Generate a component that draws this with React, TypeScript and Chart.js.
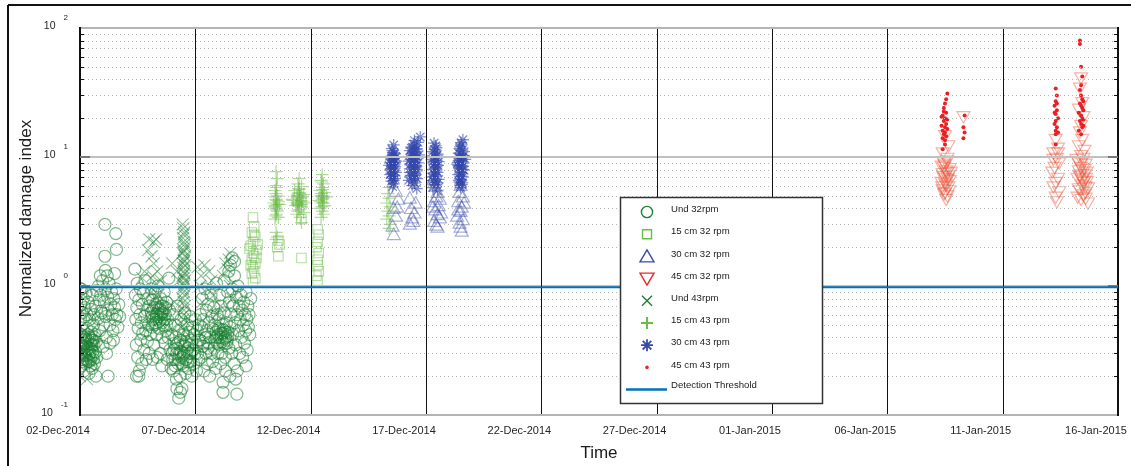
import React, { useEffect, useRef } from 'react';
import { Chart, registerables } from 'chart.js';

Chart.register(...registerables);

// ---------- axis definitions ----------
const xTickDays = [0, 5, 10, 15, 20, 25, 30, 35, 40, 45];
const xTickLabels = [
  '02-Dec-2014', '07-Dec-2014', '12-Dec-2014', '17-Dec-2014', '22-Dec-2014',
  '27-Dec-2014', '01-Jan-2015', '06-Jan-2015', '11-Jan-2015', '16-Jan-2015',
];
const yDecades = [0.1, 1, 10, 100];
const yExponents = ['-1', '0', '1', '2'];
const yMinorMultipliers = [2, 3, 4, 5, 6, 7, 8, 9];
const detectionThreshold = 0.98;

// ---------- data: [days since 02-Dec-2014, normalized damage index] ----------
const und32rpm: [number, number][] = [
  [0.00,0.28],[0.03,0.35],[0.05,0.42],[0.06,0.24],[0.08,0.31],[0.10,0.38],[0.12,0.27],[0.14,0.45],[0.15,0.33],[0.17,0.22],
  [0.19,0.36],[0.21,0.29],[0.23,0.41],[0.25,0.25],[0.27,0.34],[0.29,0.31],[0.31,0.47],[0.33,0.38],[0.35,0.26],[0.37,0.33],
  [0.39,0.21],[0.41,0.4],[0.43,0.3],[0.45,0.36],[0.47,0.27],[0.49,0.44],[0.51,0.32],[0.53,0.23],[0.55,0.38],[0.57,0.29],
  [0.59,0.5],[0.61,0.35],[0.63,0.25],[0.65,0.42],[0.67,0.31],[0.69,0.2],[0.71,0.37],[0.73,0.28],
  [0.04,0.3],[0.09,0.26],[0.11,0.34],[0.16,0.4],[0.2,0.3],[0.24,0.36],[0.28,0.27],[0.32,0.33],[0.34,0.42],[0.38,0.29],
  [0.44,0.33],[0.46,0.24],[0.5,0.38],[0.56,0.31],[0.58,0.27],[0.62,0.4],[0.13,0.29],[0.26,0.39],[0.4,0.26],[0.52,0.35],
  [0.02,0.55],[0.04,0.72],[0.06,0.95],[0.1,0.62],[0.14,0.8],[0.18,0.58],[0.22,0.68],[0.26,0.88],[0.3,0.6],[0.36,0.75],
  [0.42,0.55],[0.48,0.66],[0.54,0.85],[0.6,0.6],[0.66,0.7],[0.72,0.92],[0.78,0.56],[0.84,0.78],[0.9,0.64],
  [0.8,1.0],[0.85,0.45],[0.9,0.85],[0.95,0.62],[0.98,1.1],[1.02,0.5],[1.05,0.75],[1.1,0.95],[1.12,0.58],[1.15,0.4],
  [1.2,0.82],[1.22,0.65],[1.26,1.05],[1.3,0.5],[1.33,0.72],[1.37,0.9],[1.4,0.6],[1.43,0.45],[1.46,0.8],[1.5,0.68],
  [1.53,0.55],[1.57,0.95],[1.6,0.6],[1.64,0.48],[1.68,0.72],[1.72,0.58],[1.3,0.36],[1.45,0.38],[1.0,0.34],[1.18,1.2],[0.88,1.2],
  [1.08,3.0],[1.55,2.55],[1.58,1.92],[1.08,1.7],[1.1,1.32],[1.22,0.2],[1.15,0.3],[0.0,0.95],[1.5,1.25],
  [2.38,1.35],[2.4,0.85],[2.42,0.55],[2.44,0.35],[2.46,0.68],[2.48,1.05],[2.5,0.28],[2.52,0.47],[2.55,0.78],[2.57,0.22],
  [2.6,0.6],[2.62,0.95],[2.64,0.38],[2.66,0.52],[2.68,0.25],[2.7,0.72],[2.72,0.43],[2.75,0.88],[2.77,0.32],[2.8,0.58],
  [2.82,1.1],[2.85,0.45],[2.87,0.27],[2.9,0.65],[2.92,0.37],[2.95,0.8],[2.97,0.5],[3.0,0.3],[3.02,0.7],[3.05,0.42],
  [3.08,0.95],[2.45,0.2],[2.55,0.2],
  [3.1,0.62],[3.12,0.48],[3.15,0.78],[3.18,0.55],[3.2,0.35],[3.22,0.68],[3.25,0.88],[3.28,0.52],[3.3,0.6],[3.32,0.42],
  [3.35,0.74],[3.38,1.0],[3.4,0.58],[3.42,0.47],[3.45,0.66],[3.48,0.3],[3.5,0.8],[3.52,0.55],[3.55,0.62],[3.58,0.4],
  [3.6,0.7],[3.62,0.5],[3.65,0.9],[3.68,0.36],[3.7,0.6],[3.72,0.45],[3.75,0.75],[3.78,0.27],[3.8,0.55],[3.82,0.4],
  [3.85,1.15],[3.88,0.65],[3.9,0.32],[3.92,0.5],[3.95,0.23],[3.35,0.28],[3.55,0.24],[3.15,0.27],
  [3.13,0.58],[3.17,0.65],[3.23,0.5],[3.27,0.72],[3.31,0.55],[3.36,0.62],[3.41,0.68],[3.44,0.53],[3.49,0.6],[3.53,0.7],
  [3.57,0.52],[3.61,0.63],[3.66,0.55],[3.71,0.68],[3.76,0.5],
  [3.98,0.42],[4.0,0.3],[4.03,0.6],[4.05,0.22],[4.08,0.36],[4.1,0.5],[4.12,0.27],[4.15,0.4],[4.18,0.19],[4.2,0.33],
  [4.22,0.7],[4.25,0.25],[4.28,0.45],[4.3,0.3],[4.33,0.2],[4.35,0.38],[4.38,0.55],[4.4,0.28],[4.42,0.16],[4.45,0.35],
  [4.48,0.24],[4.5,0.42],[4.52,0.3],[4.55,0.62],[4.58,0.21],[4.6,0.37],[4.62,0.27],[4.65,0.5],[4.68,0.33],[4.7,0.23],
  [4.72,0.44],[4.75,0.3],[4.78,0.58],[4.8,0.26],[4.83,0.38],[4.85,0.2],[4.88,0.48],[4.9,0.32],[4.93,0.25],[4.95,0.42],
  [4.98,0.3],[5.0,0.55],[5.03,0.35],[5.05,0.22],[5.08,0.45],[5.1,0.3],[5.13,0.38],[5.15,0.27],[5.18,0.5],[4.35,0.15],
  [4.28,0.135],[4.2,0.16],
  [4.02,0.27],[4.07,0.32],[4.13,0.24],[4.19,0.3],[4.24,0.36],[4.29,0.27],[4.36,0.31],[4.41,0.25],[4.47,0.29],[4.53,0.34],
  [4.59,0.27],[4.64,0.31],[4.69,0.26],[4.76,0.35],[4.82,0.3],
  [5.2,0.38],[5.22,0.6],[5.25,0.28],[5.28,0.48],[5.3,0.8],[5.32,0.34],[5.35,0.55],[5.38,0.22],[5.4,0.42],[5.42,0.95],
  [5.45,0.3],[5.48,0.65],[5.5,0.45],[5.52,0.25],[5.55,0.72],[5.58,0.36],[5.6,0.52],[5.62,0.2],[5.65,0.4],[5.68,0.85],
  [5.7,0.3],[5.72,0.58],[5.75,0.26],[5.78,0.46],[5.8,0.68],[5.82,0.33],[5.85,0.5],[5.88,0.23],[5.9,0.4],[5.92,1.05],
  [5.95,0.6],[5.98,0.3],
  [6.0,0.42],[6.02,0.55],[6.05,0.35],[6.08,0.46],[6.1,0.7],[6.12,0.4],[6.15,0.3],[6.18,0.5],[6.2,0.43],[6.22,0.36],
  [6.25,0.62],[6.28,0.45],[6.3,0.28],[6.32,0.4],[6.35,0.52],[6.38,0.38],[6.4,0.9],[6.42,0.44],[6.45,0.33],[6.48,0.75],
  [6.5,0.48],[6.1,0.25],[6.3,0.22],[6.2,0.18],[6.05,0.85],[6.25,1.1],[6.45,1.3],
  [5.85,0.38],[5.9,0.44],[5.96,0.36],[6.01,0.47],[6.06,0.4],[6.11,0.43],[6.16,0.37],[6.21,0.46],[6.26,0.39],[6.31,0.44],
  [6.36,0.36],[6.41,0.41],[5.36,0.36],[5.46,0.4],[5.56,0.33],
  [6.52,1.45],[6.55,0.6],[6.58,0.3],[6.6,0.95],[6.62,0.42],[6.65,0.7],[6.68,0.25],[6.7,1.2],[6.72,0.52],[6.75,0.35],
  [6.78,0.82],[6.8,0.6],[6.82,0.22],[6.85,1.0],[6.88,0.45],[6.9,0.7],[6.92,0.3],[6.95,0.55],[6.98,0.85],[7.0,0.4],
  [7.03,0.65],[7.05,0.28],[7.08,0.5],[7.1,0.75],[7.13,0.36],[7.15,0.6],[7.18,0.45],[7.2,0.9],[7.23,0.55],[7.25,0.32],
  [7.28,0.7],[7.3,0.48],[7.33,0.6],[7.36,0.42],[7.4,0.8],[6.6,1.65],[6.7,1.55],[6.75,0.19],[6.8,0.145],[6.2,0.15],
  [6.5,0.2],[7.2,0.24],
];

const cm15_32rpm: [number, number][] = [
  [7.5,3.4],[7.55,2.9],[7.45,2.6],[7.6,2.4],[7.5,2.2],[7.4,2.05],[7.65,1.9],[7.5,1.8],[7.55,1.7],[7.45,1.6],
  [7.6,1.5],[7.5,1.4],[7.55,1.3],[7.45,1.25],[7.6,1.15],[7.5,1.07],[7.35,1.95],[7.7,2.1],[7.4,1.45],[7.65,1.65],[7.55,2.5],
  [8.6,2.25],[8.65,2.1],[8.6,1.7],[8.55,2.0],
  [9.6,1.65],[9.6,3.3],
  [10.3,2.75],[10.35,2.5],[10.3,2.2],[10.25,2.0],[10.35,1.8],[10.3,1.6],[10.3,1.45],[10.35,1.3],[10.25,1.2],[10.3,1.1],
];

const cm30_32rpm: [number, number][] = [
  [13.6,2.45],[13.55,2.85],[13.7,3.4],[13.75,4.0],[13.8,4.6],[13.7,5.3],[13.6,3.9],
  [14.3,4.7],[14.35,3.9],[14.4,3.3],[14.45,3.1],[14.5,3.6],[14.3,2.95],[14.55,4.3],
  [15.3,6.5],[15.4,5.8],[15.5,5.2],[15.45,4.8],[15.35,4.4],[15.55,4.1],[15.4,3.8],[15.5,3.5],[15.6,3.3],[15.35,3.1],
  [15.45,2.9],[15.5,2.8],[15.65,3.6],[15.3,4.0],[15.6,4.6],
  [16.5,5.9],[16.45,5.2],[16.6,4.8],[16.4,4.4],[16.55,4.0],[16.5,3.7],[16.35,3.4],[16.6,3.2],[16.45,3.0],[16.5,2.8],
  [16.55,2.6],[16.4,3.8],[16.65,4.3],
];

const cm45_32rpm: [number, number][] = [
  [37.5,15],[37.65,12.5],[37.4,11],[37.6,10],[37.45,9.2],[37.35,8.7],[37.7,8.3],[37.55,8.0],[37.4,7.6],[37.65,7.3],
  [37.5,7.0],[37.7,6.7],[37.35,6.5],[37.55,6.2],[37.65,6.0],[37.4,5.7],[37.5,5.4],[37.6,5.1],[37.55,4.8],[37.45,8.5],
  [37.6,9.5],[37.75,7.8],
  [37.48,8.9],[37.58,7.7],[37.42,7.2],[37.62,6.9],[37.5,6.4],[37.38,6.0],[37.68,5.6],[37.46,5.3],
  [38.3,21],
  [42.3,14],[42.4,12],[42.2,11],[42.35,10],[42.45,9.2],[42.25,8.5],[42.15,7.8],[42.4,7.0],[42.3,6.5],[42.2,6.0],
  [42.45,5.5],[42.3,5.0],[42.35,4.6],[42.2,9.8],[42.4,11],
  [43.4,42],[43.35,35],[43.45,27],[43.3,24],[43.5,21],[43.4,18],[43.35,16],[43.45,14],[43.3,12.5],[43.55,11.5],
  [43.4,10.5],[43.2,9.8],[43.6,9.0],[43.4,8.5],[43.3,8.0],[43.55,7.5],[43.25,7.0],[43.65,6.6],[43.45,6.2],[43.3,5.8],
  [43.6,5.4],[43.25,5.0],[43.7,4.5],[43.4,4.8],[43.5,10],[43.65,7.8],[43.45,6.8],[43.7,5.9],[43.3,9.2],
  [43.45,9.4],[43.55,8.2],[43.35,7.2],[43.5,6.5],[43.6,6.0],[43.35,5.6],[43.5,5.2],[43.6,4.9],[43.35,7.4],[43.62,7.0],
];

const und43rpm: [number, number][] = [
  [0.0,0.2],[0.05,0.65],[0.1,0.3],[0.2,0.45],[0.3,0.19],[0.5,0.25],[0.6,0.55],[0.15,0.85],[0.4,0.35],[0.8,0.4],
  [3.0,2.3],[3.2,2.2],[3.3,2.3],[2.95,1.9],[3.1,1.7],[3.2,1.5],[3.35,1.3],[3.15,1.2],[3.3,1.05],[3.5,1.1],
  [3.1,0.9],[3.4,0.85],[3.6,0.7],[3.3,0.6],[3.0,0.5],[3.5,0.55],[2.8,1.3],[2.7,1.15],
  [4.45,3.0],[4.5,2.5],[4.5,2.2],[4.55,2.0],[4.45,1.8],[4.5,1.6],[4.55,1.45],[4.5,1.3],[4.45,1.2],[4.55,1.1],
  [4.5,1.0],[4.5,0.9],[4.45,0.8],[4.55,0.7],[4.5,0.6],[4.5,0.5],[4.55,0.4],[4.45,0.35],[4.0,1.5],[4.2,1.3],
  [4.3,1.1],[4.1,0.75],[4.5,1.9],[4.55,1.7],[4.45,1.5],
  [4.48,2.8],[4.52,2.6],[4.47,2.35],[4.53,2.1],[4.49,1.85],[4.51,1.55],[4.48,1.38],[4.52,1.25],[4.49,1.15],[4.51,1.05],
  [4.47,0.95],[4.53,0.85],[4.49,0.75],[4.51,0.65],[4.48,0.55],[4.52,0.45],
  [5.1,1.4],[5.25,1.2],[5.4,1.45],[5.2,1.0],[5.5,0.95],[5.6,1.3],[5.7,1.1],[5.8,0.85],[6.3,1.5],[6.4,1.35],
  [6.2,1.2],[6.5,1.0],[6.6,0.8],[6.1,0.7],[5.3,0.75],[5.9,0.6],[6.5,1.8],[6.45,1.6],
];

const cm15_43rpm: [number, number][] = [
  [8.5,7.7],[8.55,6.8],[8.5,6.0],[8.45,5.5],[8.55,5.0],[8.5,4.7],[8.6,4.5],[8.45,4.2],[8.5,4.0],[8.55,3.8],
  [8.5,3.6],[8.6,3.4],[8.45,3.3],[8.5,2.6],[8.55,2.4],[8.5,2.3],[8.4,4.4],[8.65,4.3],[8.5,5.2],
  [8.52,5.8],[8.48,4.9],[8.53,4.6],[8.47,4.1],[8.52,3.9],[8.5,3.5],[8.55,4.3],
  [9.5,6.8],[9.45,6.2],[9.6,5.9],[9.3,5.5],[9.5,5.3],[9.7,5.1],[9.4,4.9],[9.55,4.8],[9.25,4.6],[9.65,4.5],
  [9.45,4.4],[9.35,4.2],[9.6,4.1],[9.5,3.9],[9.7,3.7],[9.4,3.6],[9.55,3.4],[9.6,3.1],[9.2,4.7],[9.8,4.4],
  [9.5,5.6],[9.45,4.3],[9.55,5.0],
  [9.48,5.7],[9.52,5.2],[9.42,5.0],[9.58,4.6],[9.5,4.5],[9.4,4.4],[9.6,4.3],[9.5,4.2],[9.45,3.8],[9.62,4.9],
  [10.5,7.3],[10.45,6.6],[10.55,6.2],[10.5,5.8],[10.4,5.5],[10.6,5.3],[10.45,5.0],[10.55,4.8],[10.35,4.6],[10.5,4.4],
  [10.6,4.2],[10.4,4.0],[10.5,3.8],[10.55,3.6],[10.45,3.4],[10.5,4.7],[10.7,4.9],
  [10.48,6.4],[10.52,5.6],[10.46,5.2],[10.54,5.0],[10.5,4.9],[10.42,4.5],[10.56,4.4],[10.5,4.1],
  [13.4,5.8],[13.35,5.2],[13.4,4.8],[13.3,4.4],[13.45,4.1],[13.35,3.8],[13.4,3.5],[13.3,3.3],[13.45,3.0],[13.4,2.8],
];

const cm30_43rpm: [number, number][] = [
  [13.6,12.4],[13.55,11.2],[13.65,10.6],[13.5,10.1],[13.6,9.7],[13.7,9.3],[13.45,9.0],[13.55,8.7],[13.65,8.4],[13.5,8.1],
  [13.6,7.8],[13.7,7.6],[13.45,7.3],[13.55,7.0],[13.65,6.8],[13.5,6.5],[13.6,6.2],[13.55,5.9],[13.7,10.0],[13.4,8.6],
  [13.6,9.0],[13.5,7.5],
  [13.52,11.6],[13.62,10.8],[13.48,9.5],[13.66,9.1],[13.53,8.9],[13.58,8.2],[13.47,7.9],[13.63,7.2],[13.52,6.9],[13.6,6.6],
  [13.57,10.3],[13.5,9.8],
  [14.75,14.3],[14.65,13.0],[14.5,12.2],[14.6,11.6],[14.3,11.2],[14.45,10.8],[14.7,10.4],[14.35,10.0],[14.55,9.6],[14.25,9.3],
  [14.65,9.0],[14.4,8.7],[14.5,8.4],[14.3,8.1],[14.6,7.8],[14.45,7.5],[14.35,7.2],[14.55,6.9],[14.25,6.6],[14.5,6.3],
  [14.4,6.0],[14.6,5.7],[14.45,10.2],[14.55,11.0],[14.35,8.9],[14.6,8.0],[14.4,7.0],
  [14.5,13.4],[14.42,11.9],[14.58,11.4],[14.38,10.6],[14.62,10.0],[14.48,9.8],[14.33,9.6],[14.53,9.0],[14.42,8.3],[14.57,8.6],
  [14.3,7.6],[14.5,7.2],[14.62,6.8],[14.4,6.5],[14.48,12.6],[14.36,11.7],
  [15.35,12.8],[15.45,11.8],[15.3,11.0],[15.5,10.5],[15.4,10.0],[15.25,9.6],[15.55,9.2],[15.35,8.8],[15.45,8.4],[15.3,8.0],
  [15.5,7.6],[15.4,7.3],[15.25,7.0],[15.55,6.7],[15.35,6.4],[15.45,6.1],[15.3,5.8],[15.5,5.5],[15.4,9.0],[15.45,7.8],
  [15.42,12.2],[15.38,11.4],[15.48,10.2],[15.32,9.3],[15.52,8.6],[15.38,8.2],[15.44,7.1],[15.3,6.6],[15.5,6.3],[15.36,10.7],
  [15.46,9.4],[15.34,7.5],
  [16.6,13.6],[16.55,12.4],[16.45,11.6],[16.65,11.0],[16.5,10.5],[16.4,10.0],[16.7,9.6],[16.55,9.2],[16.35,8.8],[16.6,8.5],
  [16.45,8.2],[16.65,7.9],[16.5,7.6],[16.4,7.3],[16.6,7.0],[16.5,6.7],[16.45,6.4],[16.55,6.1],[16.5,5.8],[16.6,9.9],
  [16.4,8.6],[16.5,9.4],
  [16.52,12.9],[16.47,12.0],[16.58,11.3],[16.42,10.7],[16.62,10.2],[16.48,9.7],[16.56,8.9],[16.44,8.4],[16.6,8.0],[16.46,7.4],
  [16.54,7.1],[16.42,6.6],[16.58,6.3],[16.48,6.0],[16.38,9.1],
];

const cm45_43rpm: [number, number][] = [
  [37.6,31],[37.55,28],[37.5,26],[37.45,24],[37.55,22],[37.4,21],[37.5,20],[37.45,19],[37.55,18],[37.35,17.5],
  [37.5,17],[37.6,16.5],[37.4,16],[37.5,15.5],[37.45,15],[37.55,14.5],[37.4,14],[37.5,13.5],[37.35,20.5],[37.6,19.5],
  [37.45,22.5],[37.5,12.5],[37.4,11.5],
  [38.35,21],[38.3,17],[38.35,15.5],[38.3,14],
  [42.3,34],[42.35,30],[42.3,27],[42.25,25],[42.35,23],[42.3,21.5],[42.4,20],[42.3,19],[42.25,18],[42.35,17],
  [42.3,16],[42.4,15.5],[42.3,15],[42.25,22],[42.35,26],[42.3,12.5],
  [43.35,80],[43.35,75],[43.4,50],[43.45,42],[43.4,36],[43.35,33],[43.4,30],[43.45,28],[43.5,27],[43.35,26],
  [43.4,25],[43.45,24],[43.5,23],[43.3,22],[43.4,21],[43.45,20],[43.5,19.5],[43.35,19],[43.4,18],[43.5,17.5],
  [43.45,17],[43.3,16],[43.4,15],
];

const legendLabels = [
  'Und 32rpm', '15 cm 32 rpm', '30 cm 32 rpm', '45 cm 32 rpm',
  'Und 43rpm', '15 cm 43 rpm', '30 cm 43 rpm', '45 cm 43 rpm', 'Detection Threshold',
];

// ---------- styles ----------
const FONT = "'Liberation Sans', Arial, Helvetica, sans-serif";
const C_UND = 'rgb(25,128,50)';
const C_15 = 'rgb(105,190,70)';
const C_30 = 'rgb(55,75,170)';
const C_45 = 'rgb(232,40,40)';
const C_THR = 'rgb(0,114,189)';
const legendKinds = ['circle', 'square', 'tri', 'tridown', 'x', 'plus', 'star', 'dot', 'line'];
const legendColors = [C_UND, C_15, C_30, C_45, C_UND, C_15, C_30, C_45, C_THR];

const toXY = (arr: [number, number][]) => arr.map(([x, y]) => ({ x, y }));

function drawLegendMarker(ctx: CanvasRenderingContext2D, kind: string, cx: number, cy: number, color: string) {
  ctx.save();
  ctx.strokeStyle = color;
  ctx.fillStyle = color;
  ctx.lineWidth = 1.4;
  ctx.setLineDash([]);
  ctx.beginPath();
  if (kind === 'circle') {
    ctx.arc(cx, cy, 5.6, 0, Math.PI * 2);
    ctx.stroke();
  } else if (kind === 'square') {
    ctx.rect(cx - 4.5, cy - 4.5, 9, 9);
    ctx.stroke();
  } else if (kind === 'tri') {
    ctx.moveTo(cx, cy - 6.5);
    ctx.lineTo(cx + 7, cy + 5.5);
    ctx.lineTo(cx - 7, cy + 5.5);
    ctx.closePath();
    ctx.stroke();
  } else if (kind === 'tridown') {
    ctx.moveTo(cx, cy + 6.5);
    ctx.lineTo(cx + 7, cy - 5.5);
    ctx.lineTo(cx - 7, cy - 5.5);
    ctx.closePath();
    ctx.stroke();
  } else if (kind === 'x') {
    ctx.moveTo(cx - 5, cy - 5); ctx.lineTo(cx + 5, cy + 5);
    ctx.moveTo(cx - 5, cy + 5); ctx.lineTo(cx + 5, cy - 5);
    ctx.stroke();
  } else if (kind === 'plus') {
    ctx.lineWidth = 2;
    ctx.moveTo(cx - 6, cy); ctx.lineTo(cx + 6, cy);
    ctx.moveTo(cx, cy - 6); ctx.lineTo(cx, cy + 6);
    ctx.stroke();
  } else if (kind === 'star') {
    ctx.lineWidth = 1.8;
    ctx.moveTo(cx - 6, cy); ctx.lineTo(cx + 6, cy);
    ctx.moveTo(cx, cy - 6); ctx.lineTo(cx, cy + 6);
    ctx.moveTo(cx - 4.3, cy - 4.3); ctx.lineTo(cx + 4.3, cy + 4.3);
    ctx.moveTo(cx - 4.3, cy + 4.3); ctx.lineTo(cx + 4.3, cy - 4.3);
    ctx.stroke();
  } else if (kind === 'dot') {
    ctx.arc(cx, cy, 1.8, 0, Math.PI * 2);
    ctx.fill();
  } else if (kind === 'line') {
    ctx.lineWidth = 2.5;
    ctx.moveTo(cx - 21, cy); ctx.lineTo(cx + 20, cy);
    ctx.stroke();
  }
  ctx.restore();
}

function line(ctx: CanvasRenderingContext2D, x1: number, y1: number, x2: number, y2: number) {
  ctx.beginPath();
  ctx.moveTo(x1, y1);
  ctx.lineTo(x2, y2);
  ctx.stroke();
}

const decorPlugin = {
  id: 'decor',
  beforeDatasetDraw(chart: any, args: any) {
    if (args.index !== 0) return; // grid goes on top of the markers, beneath the threshold line
    const { ctx, chartArea: a, scales } = chart;
    const xs = scales.x, ys = scales.y;
    ctx.save();
    // dotted minor horizontals
    ctx.strokeStyle = 'rgb(182,182,182)';
    ctx.lineWidth = 1;
    ctx.setLineDash([1, 3]);
    for (const d of yDecades.slice(0, 3)) {
      for (const m of yMinorMultipliers) {
        const py = Math.round(ys.getPixelForValue(m * d)) + 0.5;
        line(ctx, a.left, py, a.right, py);
      }
    }
    ctx.setLineDash([]);
    // major horizontals
    ctx.strokeStyle = 'rgb(192,192,192)';
    ctx.lineWidth = 2;
    for (const d of yDecades.slice(1, 3)) {
      const py = Math.round(ys.getPixelForValue(d));
      line(ctx, a.left, py, a.right, py);
    }
    // vertical solid lines
    ctx.strokeStyle = '#111';
    ctx.lineWidth = 1;
    for (const d of xTickDays.slice(1, -1)) {
      const px = Math.round(xs.getPixelForValue(d)) + 0.5;
      line(ctx, px, a.top, px, a.bottom);
    }
    // top/bottom border (gray)
    ctx.strokeStyle = 'rgb(180,180,180)';
    ctx.lineWidth = 2;
    line(ctx, a.left, a.top, a.right, a.top);
    line(ctx, a.left, a.bottom, a.right, a.bottom);
    // left/right border (black) with minor ticks
    ctx.strokeStyle = '#111';
    ctx.lineWidth = 2;
    line(ctx, a.left, a.top - 1, a.left, a.bottom + 1);
    line(ctx, a.right, a.top - 1, a.right, a.bottom + 1);
    ctx.lineWidth = 1;
    for (const d of yDecades.slice(0, 3)) {
      for (const m of yMinorMultipliers) {
        const py = Math.round(ys.getPixelForValue(m * d)) + 0.5;
        line(ctx, a.left, py, a.left + 4, py);
        line(ctx, a.right - 4, py, a.right, py);
      }
    }
    ctx.strokeStyle = 'rgb(120,120,120)';
    ctx.lineWidth = 2;
    for (const d of yDecades.slice(1, 3)) {
      const py = Math.round(ys.getPixelForValue(d));
      line(ctx, a.left, py, a.left + 10, py);
      line(ctx, a.right - 10, py, a.right, py);
    }
    ctx.restore();
  },
  afterDraw(chart: any) {
    const { ctx, chartArea: a, scales } = chart;
    const xs = scales.x, ys = scales.y;
    ctx.save();
    // outer figure frame (top + left)
    ctx.strokeStyle = '#111';
    ctx.lineWidth = 2;
    line(ctx, 8, 5, chart.width, 5);
    line(ctx, 8, 5, 8, chart.height);

    // x tick labels
    ctx.fillStyle = '#262626';
    ctx.font = `11px ${FONT}`;
    ctx.textAlign = 'center';
    ctx.textBaseline = 'middle';
    xTickDays.forEach((d, i) => {
      ctx.fillText(xTickLabels[i], xs.getPixelForValue(d) - 22, a.bottom + 16);
    });

    // y tick labels: 10 with superscript exponent
    yDecades.forEach((d, i) => {
      const py = ys.getPixelForValue(d);
      ctx.font = `8px ${FONT}`;
      ctx.textAlign = 'right';
      const ew = ctx.measureText(yExponents[i]).width;
      ctx.fillText(yExponents[i], 68, py - 10);
      ctx.font = `10.5px ${FONT}`;
      ctx.fillText('10', 68 - ew - 8, py - 2);
    });

    // axis titles
    ctx.fillStyle = '#1a1a1a';
    ctx.font = `17px ${FONT}`;
    ctx.textAlign = 'center';
    ctx.fillText('Time', (a.left + a.right) / 2, a.bottom + 38);
    ctx.save();
    ctx.translate(26, (a.top + a.bottom) / 2 - 3);
    ctx.rotate(-Math.PI / 2);
    ctx.fillText('Normalized damage index', 0, 0);
    ctx.restore();

    // legend
    const lx = 620.5, ly = 197.5, lw = 202, lh = 206;
    ctx.fillStyle = '#fff';
    ctx.fillRect(lx, ly, lw, lh);
    ctx.strokeStyle = '#333';
    ctx.lineWidth = 1.5;
    ctx.strokeRect(lx, ly, lw, lh);
    legendLabels.forEach((label, i) => {
      const cy = 212 + i * 22.2;
      drawLegendMarker(ctx, legendKinds[i], 647, cy, legendColors[i]);
      ctx.fillStyle = '#222';
      ctx.font = `9.6px ${FONT}`;
      ctx.textAlign = 'left';
      ctx.textBaseline = 'middle';
      ctx.fillText(label, 671, cy - (i === 8 ? 4 : 2.5));
    });
    ctx.restore();
  },
};

export default function App() {
  const canvasRef = useRef<HTMLCanvasElement | null>(null);

  useEffect(() => {
    const canvas = canvasRef.current;
    if (!canvas) return;
    const common = { showLine: false, pointHoverRadius: 0 };
    const chart = new Chart(canvas, {
      type: 'scatter',
      data: {
        datasets: [
          {
            type: 'line',
            label: legendLabels[8],
            data: [{ x: xTickDays[0], y: detectionThreshold }, { x: xTickDays[xTickDays.length - 1], y: detectionThreshold }],
            borderColor: C_THR,
            borderWidth: 2,
            pointRadius: 0,
            fill: false,
          } as any,
          { label: legendLabels[7], data: toXY(cm45_43rpm), pointStyle: 'circle', pointRadius: 2, pointBackgroundColor: 'rgb(235,30,35)', pointBorderColor: 'rgb(235,30,35)', pointBorderWidth: 0, ...common },
          { label: legendLabels[6], data: toXY(cm30_43rpm), pointStyle: 'star', pointRadius: 6, pointBackgroundColor: 'rgba(0,0,0,0)', pointBorderColor: 'rgba(50,70,170,0.6)', pointBorderWidth: 1.3, ...common },
          { label: legendLabels[5], data: toXY(cm15_43rpm), pointStyle: 'cross', pointRadius: 6.5, pointBackgroundColor: 'rgba(0,0,0,0)', pointBorderColor: 'rgba(100,185,60,0.5)', pointBorderWidth: 1.2, ...common },
          { label: legendLabels[4], data: toXY(und43rpm), pointStyle: 'crossRot', pointRadius: 8.5, pointBackgroundColor: 'rgba(0,0,0,0)', pointBorderColor: 'rgba(25,128,50,0.5)', pointBorderWidth: 1.1, ...common },
          { label: legendLabels[3], data: toXY(cm45_32rpm), pointStyle: 'triangle', pointRotation: 180, pointRadius: 7.5, pointBackgroundColor: 'rgba(0,0,0,0)', pointBorderColor: 'rgba(238,85,55,0.45)', pointBorderWidth: 1.2, ...common },
          { label: legendLabels[2], data: toXY(cm30_32rpm), pointStyle: 'triangle', pointRadius: 7.5, pointBackgroundColor: 'rgba(0,0,0,0)', pointBorderColor: 'rgba(60,75,170,0.45)', pointBorderWidth: 1.2, ...common },
          { label: legendLabels[1], data: toXY(cm15_32rpm), pointStyle: 'rect', pointRadius: 6.7, pointBackgroundColor: 'rgba(0,0,0,0)', pointBorderColor: 'rgba(105,190,70,0.5)', pointBorderWidth: 1.1, ...common },
          { label: legendLabels[0], data: toXY(und32rpm), pointStyle: 'circle', pointRadius: 6, pointBackgroundColor: 'rgba(0,0,0,0)', pointBorderColor: 'rgba(25,128,50,0.55)', pointBorderWidth: 1.2, ...common },
        ],
      },
      options: {
        responsive: false,
        animation: false,
        events: [],
        layout: { padding: { left: 80, top: 28, right: 13, bottom: 51 } },
        plugins: { legend: { display: false }, tooltip: { enabled: false } },
        scales: {
          x: { type: 'linear', display: false, min: xTickDays[0], max: xTickDays[xTickDays.length - 1] },
          y: { type: 'logarithmic', display: false, min: yDecades[0], max: yDecades[yDecades.length - 1] },
        },
      },
      plugins: [decorPlugin],
    } as any);
    return () => chart.destroy();
  }, []);

  return (
    <canvas
      ref={canvasRef}
      width={1131}
      height={466}
      style={{ position: 'absolute', left: 0, top: 0, display: 'block' }}
    />
  );
}
